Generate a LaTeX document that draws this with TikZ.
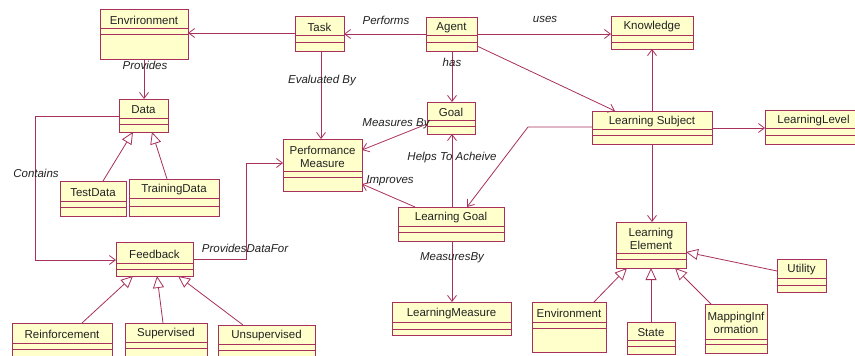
\documentclass[tikz,border=0pt]{standalone}
\usepackage{fontspec}
\setmainfont{Liberation Sans}
\usetikzlibrary{arrows.meta,calc}

\definecolor{umlfill}{HTML}{FFFFCC}
\definecolor{umlline}{HTML}{A8305C}
\definecolor{umltext}{HTML}{222222}

\tikzset{
  classbox/.style={draw=umlline, fill=umlfill, line width=0.9pt, inner sep=0pt, outer sep=0pt, rectangle},
  nametext/.style={inner sep=0pt, align=center, text=umltext, font=\fontsize{11.5}{13}\selectfont},
  rolelabel/.style={inner sep=0pt, text=umltext, font=\fontsize{11.5}{13}\selectfont\itshape},
  assoc/.style={draw=umlline, line width=0.8pt, -{Straight Barb[length=6pt,width=9pt]}},
  gen/.style={draw=umlline, line width=0.8pt, -{Triangle[open, length=12pt, width=11pt, fill=white]}},
}

% class box: name, x1, y1, x2, y2, first divider, second divider, title
\newcommand{\umlclass}[8]{%
  \node[classbox, minimum width={#4-#2}, minimum height={#5-#3}] (#1) at ({(#2+#4)/2},{(#3+#5)/2}) {};
  \draw[umlline, line width=0.9pt] (#2,#6) -- (#4,#6) (#2,#7) -- (#4,#7);
  \node[nametext] (#1-name) at ({(#2+#4)/2},{(#3+#6)/2+1.5}) {#8};
}

\begin{document}
\begin{tikzpicture}[x=1pt, y=-1pt]
\useasboundingbox (0,0) rectangle (855,356);
\clip (0,0) rectangle (855,356);
\fill[white] (0,0) rectangle (855,356);

% classes
\umlclass{envtop}{100}{9}{188}{59}{28}{34}{Envrironment}
\umlclass{data}{119}{99}{168}{132}{118}{124}{Data}
\umlclass{task}{295}{16}{344}{51}{35}{42}{Task}
\umlclass{agent}{426}{17}{477}{51}{35}{42}{Agent}
\umlclass{know}{611}{16}{693}{49}{35}{42}{Knowledge}
\umlclass{goal}{427}{102}{475}{134}{120}{126}{Goal}
\umlclass{lsub}{592}{111}{712}{144}{129}{135}{Learning Subject}
\umlclass{llevel}{765}{110}{862}{144}{128}{135}{LearningLevel}
\umlclass{pm}{283}{139}{362}{191}{171}{177}{Performance\\Measure}
\umlclass{lgoal}{398}{207}{504}{241}{226}{232}{Learning Goal}
\umlclass{lmeas}{392}{302}{511}{335}{322}{329}{LearningMeasure}
\umlclass{envbot}{532}{302}{606}{352}{322}{328}{Environment}
\umlclass{lelem}{616}{222}{686}{268}{253}{259}{Learning\\Element}
\umlclass{util}{777}{259}{826}{292}{278}{285}{Utility}
\umlclass{state}{627}{322}{675}{354}{340}{346}{State}
\umlclass{mapinfo}{705}{304}{767}{353}{339}{344}{MappingInf\\ormation}
\umlclass{test}{60}{181}{126}{216}{201}{207}{TestData}
\umlclass{train}{129}{179}{219}{216}{198}{206}{TrainingData}
\umlclass{feed}{116}{242}{193}{276}{263}{269}{Feedback}
\umlclass{reinf}{12}{323}{112}{364}{343}{349}{Reinforcement}
\umlclass{sup}{125}{323}{207}{364}{342}{348}{Supervised}
\umlclass{unsup}{218}{325}{315}{364}{344}{350}{Unsupervised}

% bend points of routed associations
\coordinate (dfbend) at (35,260);
\coordinate (fpbend) at (246,163);
\coordinate (lgbend) at (528,127);

% associations
\draw[assoc] (agent.west |- 0,34) -- (task.east |- 0,34);
\draw[assoc] (task.west |- 0,33) -- (envtop.east |- 0,33);
\draw[assoc] (envtop.south -| 144,0) -- (data.north -| 144,0);
\draw[assoc] (agent.east |- 0,34) -- (know.west |- 0,34);
\draw[assoc] (agent.south -| 452,0) -- (goal.north -| 452,0);
\draw[assoc] ($(agent.south east)+(0,-5)$) -- (lsub.north -| 615,0);
\draw[assoc] (task.south -| 321,0) -- (pm.north -| 321,0);
\draw[assoc] (goal.west |- 0,124) -- (pm.east |- 0,150);
\draw[assoc] (lsub.north -| 652,0) -- (know.south -| 652,0);
\draw[assoc] (lsub.east |- 0,128) -- (llevel.west |- 0,128);
\draw[assoc] (lsub.west |- lgbend) -- (lgbend) -- (lgoal.north -| 467,0);
\draw[assoc] (lsub.south -| 652,0) -- (lelem.north -| 652,0);
\draw[assoc] (lgoal.north -| 452,0) -- (goal.south -| 452,0);
\draw[assoc] (lgoal.north -| 415,0) -- (pm.east |- 0,184);
\draw[assoc] (lgoal.south -| 452,0) -- (lmeas.north -| 452,0);
\draw[assoc] (data.west |- 0,116) -| (dfbend) -- (feed.west |- dfbend);
\draw[assoc] (feed.east |- 0,259) -| (fpbend) -- (pm.west |- fpbend);

% generalizations
\draw[gen] (test.north -| 103,0) -- (data.south -| 133,0);
\draw[gen] (train.north -| 167,0) -- (data.south -| 152,0);
\draw[gen] (reinf.north -| 82,0) -- (feed.south -| 133,0);
\draw[gen] (sup.north -| 163,0) -- (feed.south -| 157,0);
\draw[gen] (unsup.north -| 243,0) -- (feed.south -| 178,0);
\draw[gen] (envbot.north -| 594,0) -- (lelem.south -| 627,0);
\draw[gen] (state.north -| 651,0) -- (lelem.south -| 651,0);
\draw[gen] (mapinfo.north -| 711,0) -- (lelem.south -| 675,0);
\draw[gen] (util.west |- 0,271) -- (lelem.east |- 0,252);

% role labels
\node[rolelabel] (lperforms) at (386,20) {Performs};
\node[rolelabel] (luses) at (545,19) {uses};
\node[rolelabel] (lhas) at (452,62) {has};
\node[rolelabel] (lprovides) at (145,65) {Provides};
\node[rolelabel] (levaluated) at (322,81) {Evaluated By};
\node[rolelabel] (lmeasuresby) at (396,124) {Measures By};
\node[rolelabel] (lhelps) at (452,158) {Helps To Acheive};
\node[rolelabel] (limproves) at (390,181) {Improves};
\node[rolelabel] (lmeasby) at (452,258) {MeasuresBy};
\node[rolelabel] (lcontains) at (36,173) {Contains};
\node[rolelabel] (lprovfor) at (245,248) {ProvidesDataFor};
\end{tikzpicture}
\end{document}
